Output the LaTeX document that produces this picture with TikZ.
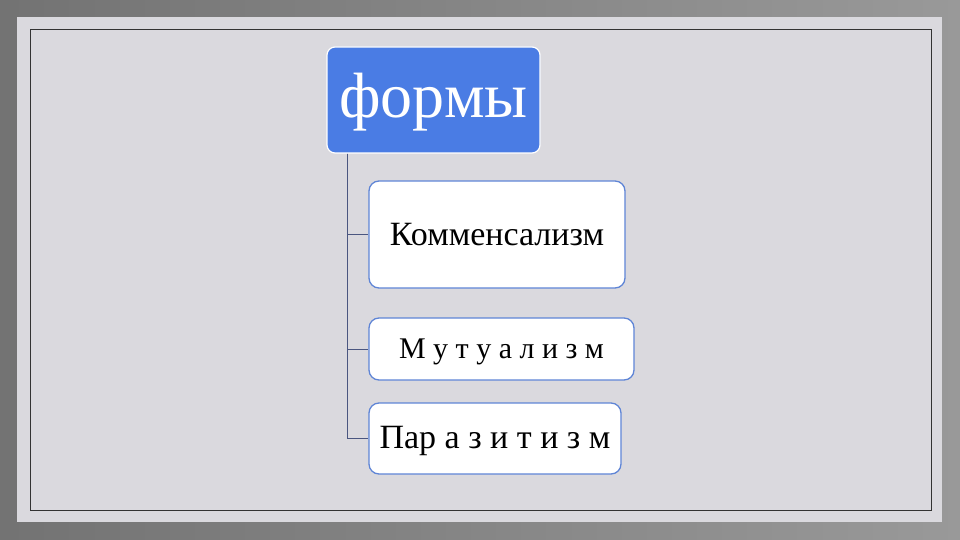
\documentclass[tikz,border=0pt]{standalone}
\usepackage{fontspec}
\setmainfont{Liberation Serif}
\usetikzlibrary{positioning,calc}
\definecolor{panelgray}{HTML}{DAD9DE}
\definecolor{formblue}{HTML}{4A7CE4}
\definecolor{boxblue}{HTML}{5F85D6}
\definecolor{treeblue}{HTML}{4A5680}

\begin{document}
\begin{tikzpicture}[x=1pt,y=-1pt,
  topbox/.style={fill=formblue,draw=white,line width=1.2pt,rounded corners=8pt,
    text=white,inner sep=0pt,minimum width=213pt,font=\fontsize{64}{68}\selectfont},
  formbox/.style={fill=white,draw=boxblue,line width=1.3pt,rounded corners=10pt,
    text=black,inner sep=0pt,font=\fontsize{30}{34}\selectfont},
  treeline/.style={draw=treeblue,line width=1pt}]
% background
\shade[left color=black!55!white, right color=black!40!white] (0,0) rectangle (960,540);
\fill[panelgray] (17,17) rectangle (942,522);
\draw[line width=1pt,black!80] (30,30) rectangle (931,510);
% top
\node[topbox,text height=71pt,text depth=35pt] (formy) at (433.5,100) {формы};
% forms
\node[formbox,minimum width=256pt,text height=64pt,text depth=43pt,
  font=\fontsize{34}{38}\selectfont] (komm) at (497,234.5) {Комменсализм};
\node[formbox,minimum width=265pt,text height=40pt,text depth=22pt] (mutu) at (501.5,349) {М у т у а л и з м};
\node[formbox,minimum width=252pt,text height=45pt,text depth=26pt,
  font=\fontsize{34}{38}\selectfont] (para) at (495,438.5) {Пар а з и т и з м};
% tree
\coordinate (trunk) at ([xshift=21pt]formy.south west);
\draw[treeline] (trunk) |- (komm.west);
\draw[treeline] (trunk) |- (mutu.west);
\draw[treeline] (trunk) |- (para.west);
\end{tikzpicture}
\end{document}
